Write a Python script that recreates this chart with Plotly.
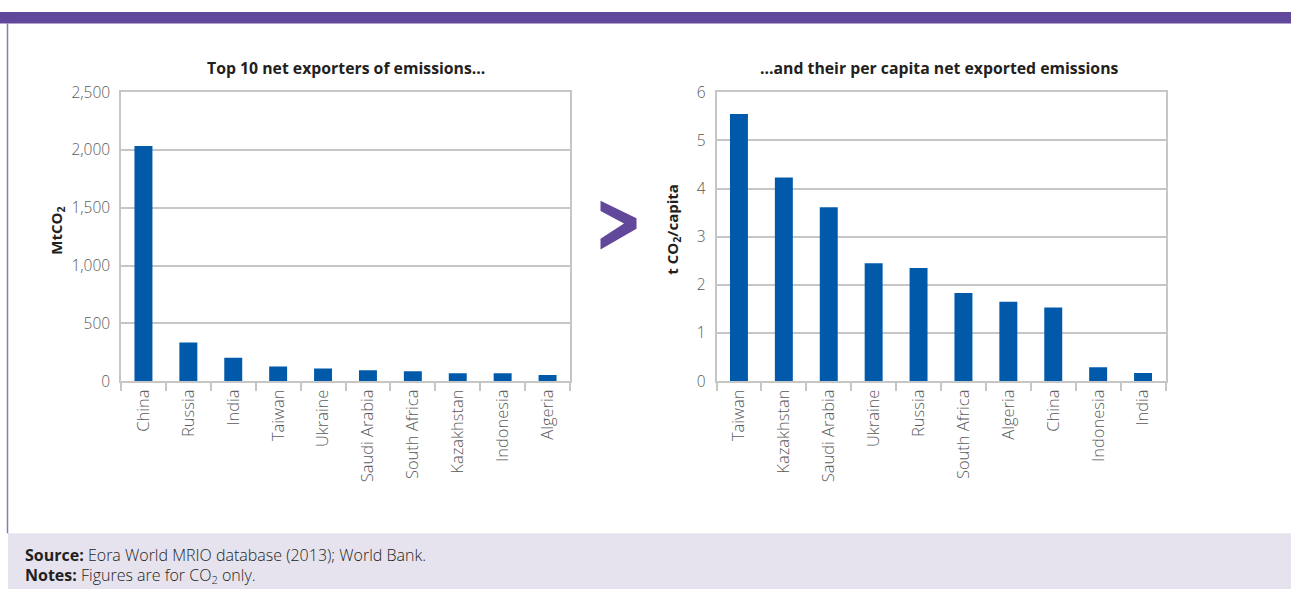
import plotly.graph_objects as go

# Net exporters of embodied CO2 emissions, MtCO2
exporters = ["China", "Russia", "India", "Taiwan", "Ukraine", "Saudi Arabia",
             "South Africa", "Kazakhstan", "Indonesia", "Algeria"]
net_exports_mt = [2035, 336, 203, 128, 111, 94, 86, 69, 69, 53]

# Per capita net exported emissions, t CO2 per person
per_capita_countries = ["Taiwan", "Kazakhstan", "Saudi Arabia", "Ukraine", "Russia",
                        "South Africa", "Algeria", "China", "Indonesia", "India"]
per_capita_t = [5.55, 4.23, 3.61, 2.45, 2.35, 1.83, 1.65, 1.53, 0.29, 0.17]

left_ticks = [0, 500, 1000, 1500, 2000, 2500]
left_ticktext = ["0", "500", "1,000", "1,500", "2,000", "2,500"]
right_ticks = [0, 1, 2, 3, 4, 5, 6]

W, H = 1291, 599
BAR = "#005aa9"
PURPLE = "#62489b"
GRID = "#c6c6c6"
XTICK_FONT = dict(family="Open Sans", size=16.5, color="#595959", weight=300)
YTICK_FONT = dict(family="Open Sans", size=15.5, color="#595959", weight=300)


def px(x):
    return x / W


def py(y):
    return 1 - y / H


fig = go.Figure()
fig.add_trace(go.Bar(x=exporters, y=net_exports_mt, marker_color=BAR,
                     marker_line_width=0, xaxis="x", yaxis="y", showlegend=False))
fig.add_trace(go.Bar(x=per_capita_countries, y=per_capita_t, marker_color=BAR,
                     marker_line_width=0, xaxis="x2", yaxis="y2", showlegend=False))

xcommon = dict(tickangle=-90, tickfont=XTICK_FONT, showline=True, linecolor=GRID,
               linewidth=1.5, mirror=True, ticks="outside", tickson="boundaries",
               ticklen=8, tickcolor=GRID, tickwidth=1.5, showgrid=False,
               fixedrange=True)
ycommon = dict(tickfont=YTICK_FONT, showline=True, linecolor=GRID, linewidth=1.5,
               mirror=True, gridcolor=GRID, gridwidth=1.5, ticks="", zeroline=False,
               ticklabelstandoff=6, fixedrange=True)

fig.update_layout(
    width=W, height=H,
    margin=dict(l=0, r=0, t=0, b=0),
    paper_bgcolor="white", plot_bgcolor="white",
    bargap=0.6,
    xaxis=dict(domain=[px(121), px(570)], anchor="y", **xcommon),
    yaxis=dict(domain=[py(383.3), py(83.3)], anchor="x", range=[0, 2500],
               tickvals=left_ticks, ticktext=left_ticktext, **ycommon),
    xaxis2=dict(domain=[px(716.5), px(1165.5)], anchor="y2", **xcommon),
    yaxis2=dict(domain=[py(383.3), py(83.3)], anchor="x2", range=[0, 6],
                tickvals=right_ticks, **ycommon),
)

shapes = [
    # header band
    dict(type="rect", xref="paper", yref="paper", x0=0, x1=1, y0=py(12), y1=1,
         fillcolor=PURPLE, line_width=0, layer="below"),
    # left frame rule
    dict(type="line", xref="paper", yref="paper", x0=px(7.5), x1=px(7.5),
         y0=py(541), y1=py(12), line=dict(color="#8a78b8", width=1.5)),
    # notes band
    dict(type="rect", xref="paper", yref="paper", x0=px(8), x1=1, y0=0, y1=py(541),
         fillcolor="#e6e3ef", line_width=0, layer="below"),
    # chevron between the panels
    dict(type="path", xref="paper", yref="paper",
         path="M {} {} L {} {} L {} {} L {} {} L {} {} L {} {} L {} {} Z".format(
             px(600.5), py(196), px(636.5), py(214), px(636.5), py(225),
             px(600.5), py(246.5), px(600.5), py(235.5), px(624), py(219.5),
             px(600.5), py(206.5)),
         fillcolor=PURPLE, line_width=0),
]
fig.update_layout(shapes=shapes)

TITLE_FONT = dict(family="Open Sans", size=15.8, color="#231f20", weight=700)
AXIS_TITLE_FONT = dict(family="Open Sans", size=15, color="#231f20", weight=700)
NOTE_FONT = dict(family="Open Sans", size=16, color="#231f20", weight=300)
ann = [
    dict(text="Top 10 net exporters of emissions…", x=px(345.5), y=py(58),
         font=TITLE_FONT),
    dict(text="…and their per capita net exported emissions", x=px(939), y=py(58),
         font=TITLE_FONT),
    dict(text="MtCO<sub>2</sub>", x=px(57), y=py(227), textangle=-90,
         font=AXIS_TITLE_FONT),
    dict(text="t CO<sub>2</sub>/capita", x=px(673), y=py(226), textangle=-90,
         font=AXIS_TITLE_FONT),
    dict(text="<b>Source:</b> Eora World MRIO database (2013); World Bank.",
         x=px(23), y=py(564), xanchor="left", font=NOTE_FONT),
    dict(text="<b>Notes:</b> Figures are for CO<sub>2</sub> only.",
         x=px(23), y=py(585), xanchor="left", font=NOTE_FONT),
]
for a in ann:
    a.setdefault("xanchor", "center")
    fig.add_annotation(xref="paper", yref="paper", yanchor="middle",
                       showarrow=False, **a)

fig.write_html("out.html")
